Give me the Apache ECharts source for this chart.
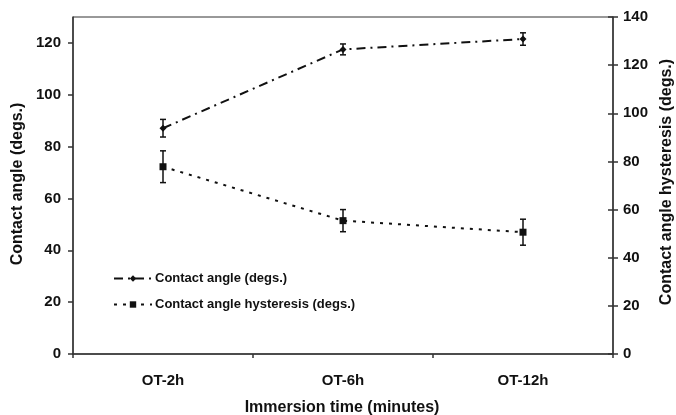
<!DOCTYPE html>
<html>
<head>
<meta charset="utf-8">
<script src="https://cdn.jsdelivr.net/npm/echarts@6/dist/echarts.min.js"></script>
<style>html,body{margin:0;padding:0;background:#fff}#c{width:676px;height:415px}</style>
</head>
<body>
<div id="c"></div>
<script>
var categories = ['OT-2h', 'OT-6h', 'OT-12h'];
var contactAngle = [87.1, 117.5, 121.5];
var contactAngleErr = [3.4, 2.1, 2.4];
var hysteresis = [77.8, 55.4, 50.6];
var hysteresisErr = [6.6, 4.6, 5.4];
var leftTicks = [0, 20, 40, 60, 80, 100, 120];
var rightTicks = [0, 20, 40, 60, 80, 100, 120, 140];
var seriesNames = ['Contact angle (degs.)', 'Contact angle hysteresis (degs.)'];
var xTitle = 'Immersion time (minutes)';
var yLeftTitle = 'Contact angle (degs.)';
var yRightTitle = 'Contact angle hysteresis (degs.)';

var FONT = '"Liberation Sans", Arial, sans-serif';
var INK = '#111';
var AX = '#333';

function errData(vals, errs) {
  return vals.map(function (v, i) { return [i, v - errs[i], v + errs[i]]; });
}
function errRender(params, api) {
  var x = api.value(0);
  var lo = api.coord([x, api.value(1)]);
  var hi = api.coord([x, api.value(2)]);
  var cap = 3;
  var st = { stroke: INK, lineWidth: 1.5 };
  return {
    type: 'group',
    children: [
      { type: 'line', shape: { x1: lo[0], y1: lo[1], x2: hi[0], y2: hi[1] }, style: st },
      { type: 'line', shape: { x1: lo[0] - cap, y1: lo[1], x2: lo[0] + cap, y2: lo[1] }, style: st },
      { type: 'line', shape: { x1: hi[0] - cap, y1: hi[1], x2: hi[0] + cap, y2: hi[1] }, style: st }
    ]
  };
}

var chart = echarts.init(document.getElementById('c'), null, { renderer: 'canvas' });
chart.setOption({
  animation: false,
  backgroundColor: '#fff',
  grid: { left: 73, right: 63, top: 17, bottom: 61, show: true, borderColor: AX, borderWidth: 1 },
  legend: {
    orient: 'vertical',
    left: 108,
    top: 267,
    itemWidth: 38,
    itemHeight: 8,
    itemGap: 13,
    data: seriesNames,
    textStyle: { fontFamily: FONT, fontSize: 13, fontWeight: 'bold', color: INK, padding: [0, 0, 0, -2] }
  },
  xAxis: {
    type: 'category',
    data: categories,
    boundaryGap: true,
    axisLine: { lineStyle: { color: AX, width: 1.5 } },
    axisTick: { show: true, length: 4, lineStyle: { color: AX, width: 1.5 } },
    axisLabel: { margin: 19, fontFamily: FONT, fontSize: 15, fontWeight: 'bold', color: INK },
    splitLine: { show: false }
  },
  yAxis: [
    {
      type: 'value', position: 'left', min: 0, max: 130, interval: 20,
      axisLine: { show: true, lineStyle: { color: AX, width: 1.5 } },
      axisTick: { show: true, length: 5, customValues: leftTicks, lineStyle: { color: AX, width: 1.5 } },
      axisLabel: { margin: 12, customValues: leftTicks, fontFamily: FONT, fontSize: 15, fontWeight: 'bold', color: INK },
      splitLine: { show: false }
    },
    {
      type: 'value', position: 'right', min: 0, max: 140, interval: 20,
      axisLine: { show: true, lineStyle: { color: AX, width: 1.5 } },
      axisTick: { show: true, length: 5, customValues: rightTicks, lineStyle: { color: AX, width: 1.5 } },
      axisLabel: { margin: 10, customValues: rightTicks, fontFamily: FONT, fontSize: 15, fontWeight: 'bold', color: INK },
      splitLine: { show: false }
    },
    {
      type: 'value', position: 'right', min: 0, max: 140, interval: 20,
      axisLine: { show: false },
      axisTick: { show: true, inside: true, length: 5, customValues: rightTicks, lineStyle: { color: AX, width: 1.5 } },
      axisLabel: { show: false },
      splitLine: { show: false }
    }
  ],
  graphic: [
    { type: 'text', x: 18, y: 184, rotation: Math.PI / 2,
      style: { text: yLeftTitle, font: 'bold 16px ' + FONT, fill: INK, textAlign: 'center', textVerticalAlign: 'middle' } },
    { type: 'text', x: 667, y: 182, rotation: Math.PI / 2,
      style: { text: yRightTitle, font: 'bold 16px ' + FONT, fill: INK, textAlign: 'center', textVerticalAlign: 'middle' } },
    { type: 'text', x: 342, y: 408,
      style: { text: xTitle, font: 'bold 16px ' + FONT, fill: INK, textAlign: 'center', textVerticalAlign: 'middle' } }
  ],
  series: [
    {
      name: seriesNames[0], type: 'line', yAxisIndex: 0, data: contactAngle,
      symbol: 'diamond', symbolSize: 7,
      lineStyle: { color: INK, width: 2, type: [9, 5, 2, 5] },
      itemStyle: { color: INK }, z: 3
    },
    {
      name: seriesNames[1], type: 'line', yAxisIndex: 1, data: hysteresis,
      symbol: 'rect', symbolSize: 7,
      lineStyle: { color: INK, width: 2, type: [3, 6] },
      itemStyle: { color: INK }, z: 3
    },
    { type: 'custom', yAxisIndex: 0, data: errData(contactAngle, contactAngleErr), renderItem: errRender, z: 4, silent: true },
    { type: 'custom', yAxisIndex: 1, data: errData(hysteresis, hysteresisErr), renderItem: errRender, z: 4, silent: true }
  ]
});
</script>
</body>
</html>
